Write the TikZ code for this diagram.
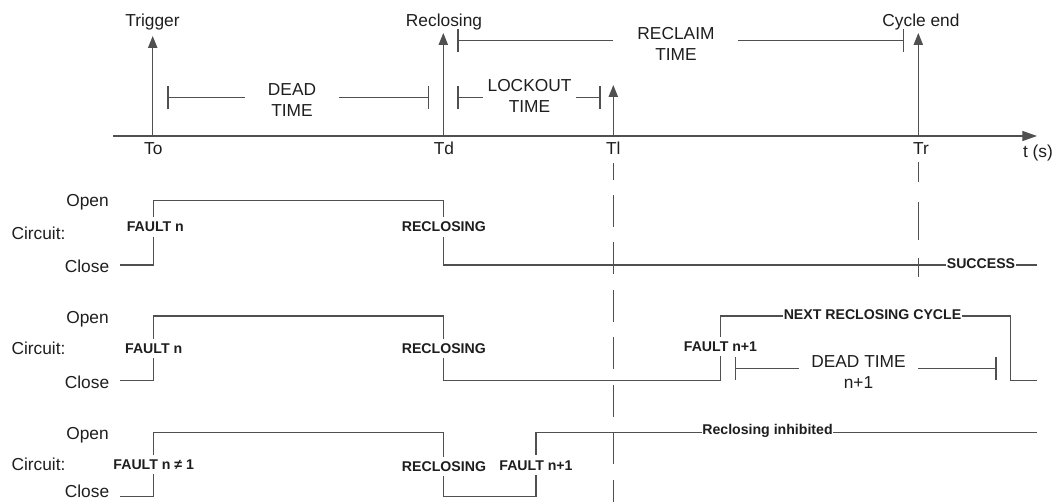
\documentclass[tikz,border=0pt]{standalone}
\usepackage{fontspec}
\setmainfont{Liberation Sans}
\usetikzlibrary{arrows.meta}
\definecolor{linec}{RGB}{80,80,80}
\definecolor{txtc}{RGB}{30,30,30}
\begin{document}
\begin{tikzpicture}[x=0.75pt,y=-0.75pt,
  wire/.style={draw=linec, line width=0.95pt},
  tarr/.style={wire, -{Triangle[length=9pt,width=7pt]}},
  axisarr/.style={wire, -{Triangle[length=11pt,width=7.5pt]}},
  lbar/.style={wire, {Bar[width=17.5pt]}-},
  rbar/.style={wire, -{Bar[width=17.5pt]}},
  tlbl/.style={font=\fontsize{13}{15.75}\selectfont, text=txtc, inner sep=0pt, anchor=base},
  mlbl/.style={font=\fontsize{13}{15.75}\selectfont, text=txtc, inner sep=0pt, align=center},
  blbl/.style={font=\fontsize{10.6}{12}\selectfont\bfseries, text=txtc, fill=white, inner xsep=0.6pt, inner ysep=3.6pt, anchor=base},
  tlgap/.style={wire, dash pattern=on 24pt off 11.6pt, dash phase=11.6pt},
  trgap/.style={wire, dash pattern=on 15pt off 15pt on 28.5pt off 13.5pt on 14.25pt off 20pt}
]
\useasboundingbox (0,0) rectangle (1055,502);

% ---------- time axis ----------
\coordinate (ax0) at (113,136);
\coordinate (ax1) at (1037,136);
\draw[axisarr] (ax0) -- (ax1);

\coordinate (pTo) at (152.7,136); \coordinate (hTo) at (152.7,36);
\coordinate (pTd) at (443.3,136); \coordinate (hTd) at (443.3,33);
\coordinate (pTl) at (613.3,136); \coordinate (hTl) at (613.3,85);
\coordinate (pTr) at (918.3,136); \coordinate (hTr) at (918.3,33);
\draw[tarr] (pTo) -- (hTo);
\draw[tarr] (pTd) -- (hTd);
\draw[tarr] (pTl) -- (hTl);
\draw[tarr] (pTr) -- (hTr);

\node[tlbl] (trig) at (152.5,27) {Trigger};
\node[tlbl] (recl) at (444,27) {Reclosing};
\node[tlbl] (cycend) at (921,27) {Cycle end};
\node[tlbl] (To) at (153.3,155) {To};
\node[tlbl] (Td) at (444,155) {Td};
\node[tlbl] (Tl) at (613.3,155) {Tl};
\node[tlbl] (Tr) at (921,155) {Tr};
\node[tlbl] (ts) at (1038,158) {t (s)};

% ---------- interval brackets ----------
\node[mlbl] (dead) at (292,100.5) {DEAD\\TIME};
\coordinate (dA) at (167.3,97.7); \coordinate (dB) at (245,97.7);
\coordinate (dC) at (339,97.7);   \coordinate (dD) at (429.3,97.7);
\draw[lbar] (dA) -- (dB);
\draw[rbar] (dC) -- (dD);

\node[mlbl] (lock) at (529.5,95.5) {LOCKOUT\\TIME};
\coordinate (lA) at (457.3,97.7); \coordinate (lB) at (483.3,97.7);
\coordinate (lC) at (576,97.7);   \coordinate (lD) at (600.7,97.7);
\draw[lbar] (lA) -- (lB);
\draw[rbar] (lC) -- (lD);

\node[mlbl] (recla) at (676,43.8) {RECLAIM\\TIME};
\coordinate (rA) at (457.3,40.7); \coordinate (rB) at (613.3,40.7);
\coordinate (rC) at (738.3,40.7); \coordinate (rD) at (904.3,40.7);
\draw[lbar] (rA) -- (rB);
\draw[rbar] (rC) -- (rD);

% ---------- row 1 ----------
\node[tlbl] (open1) at (87.5,207) {Open};
\node[tlbl] (circ1) at (38.5,239) {Circuit:};
\node[tlbl] (close1) at (87,272) {Close};
\coordinate (a0) at (120,265);
\coordinate (a1) at (153.3,265);
\coordinate (a2) at (153.3,200.7);
\coordinate (a3) at (443.3,200.7);
\coordinate (a4) at (443.3,265);
\coordinate (a5) at (1037,265);
\draw[wire] (a0) -- (a1) -- (a2) -- (a3) -- (a4) -- (a5);

% ---------- row 2 ----------
\node[tlbl] (open2) at (87.5,323) {Open};
\node[tlbl] (circ2) at (38.5,354.7) {Circuit:};
\node[tlbl] (close2) at (87,388) {Close};
\coordinate (b0) at (120,380.7);
\coordinate (b1) at (153.3,380.7);
\coordinate (b2) at (153.3,316);
\coordinate (b3) at (443.3,316);
\coordinate (b4) at (443.3,380.7);
\coordinate (b5) at (720.7,380.7);
\coordinate (b6) at (720.7,316);
\coordinate (b7) at (1010.7,316);
\coordinate (b8) at (1010.7,380.7);
\coordinate (b9) at (1037,380.7);
\draw[wire] (b0) -- (b1) -- (b2) -- (b3) -- (b4) -- (b5) -- (b6) -- (b7) -- (b8) -- (b9);

\node[mlbl] (dead2) at (858.5,372) {DEAD TIME\\n+1};
\coordinate (eA) at (735,368.3); \coordinate (eB) at (799.3,368.3);
\coordinate (eC) at (918.3,368.3); \coordinate (eD) at (996.7,368.3);
\draw[lbar] (eA) -- (eB);
\draw[rbar] (eC) -- (eD);

% ---------- row 3 ----------
\node[tlbl] (open3) at (87.5,439) {Open};
\node[tlbl] (circ3) at (38.5,470) {Circuit:};
\node[tlbl] (close3) at (87,497) {Close};
\coordinate (c0) at (120,496.7);
\coordinate (c1) at (153.3,496.7);
\coordinate (c2) at (153.3,432.7);
\coordinate (c3) at (443.3,432.7);
\coordinate (c4) at (443.3,496.7);
\coordinate (c5) at (536,496.7);
\coordinate (c6) at (536,432.7);
\coordinate (c7) at (1037,432.7);
\draw[wire] (c0) -- (c1) -- (c2) -- (c3) -- (c4) -- (c5) -- (c6) -- (c7);

% ---------- dashed time markers ----------
\coordinate (vTl0) at (613.3,163); \coordinate (vTl1) at (613.3,502);
\coordinate (vTr0) at (918.3,162); \coordinate (vTr1) at (918.3,277);
\draw[tlgap] (vTl0) -- (vTl1);
\draw[trgap] (vTr0) -- (vTr1);

% ---------- bold event labels ----------
\node[blbl] (f1) at (155.3,232) {FAULT n};
\node[blbl] (r1) at (443.8,232) {RECLOSING};
\node[blbl] (succ) at (981,268) {SUCCESS};

\node[blbl] (f2) at (153.7,353.5) {FAULT n};
\node[blbl] (r2) at (443.8,353.5) {RECLOSING};
\node[blbl] (f2b) at (720.5,351.5) {FAULT n+1};
\node[blbl] (next) at (872.5,319.5) {NEXT RECLOSING CYCLE};

\node[blbl] (f3) at (153.7,469.3) {FAULT n ≠ 1};
\node[blbl] (r3) at (444,471.5) {RECLOSING};
\node[blbl] (f3b) at (536,470) {FAULT n+1};
\node[blbl] (inhib) at (767.5,434.5) {Reclosing inhibited};
\end{tikzpicture}
\end{document}
